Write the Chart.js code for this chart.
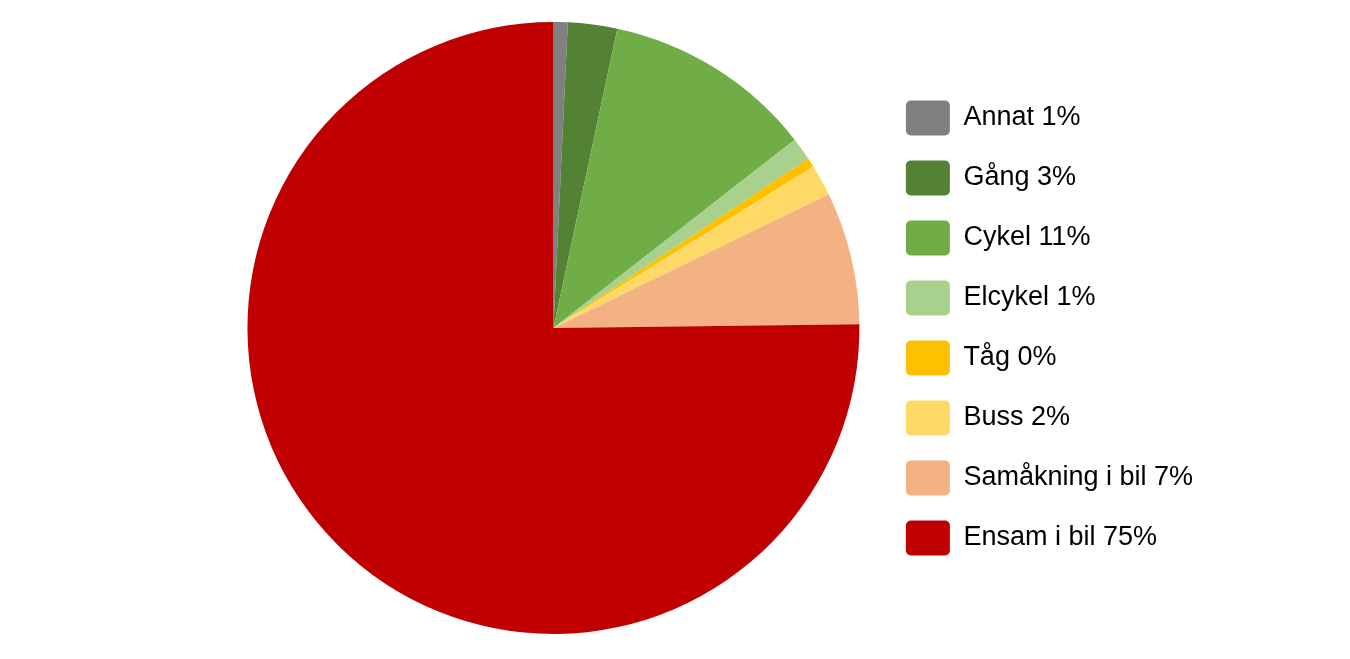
<!DOCTYPE html>
<html>
<head>
<meta charset="utf-8">
<script src="https://cdn.jsdelivr.net/npm/chart.js@4/dist/chart.umd.min.js"></script>
<style>
html,body{margin:0;padding:0;background:#fff;}
#wrap{width:1350px;height:659px;position:relative;}
</style>
</head>
<body>
<div id="wrap"><canvas id="c"></canvas></div>
<script>
const categories = ["Annat 1%", "Gång 3%", "Cykel 11%", "Elcykel 1%", "Tåg 0%", "Buss 2%", "Samåkning i bil 7%", "Ensam i bil 75%"];
const values = [0.75, 2.6, 11.1, 1.2, 0.5, 1.65, 7.0, 75.2];
const colors = ["#808080", "#548235", "#70AD47", "#A9D18E", "#FFC000", "#FFD966", "#F4B183", "#C00000"];

new Chart(document.getElementById('c'), {
  type: 'pie',
  data: {
    labels: categories,
    datasets: [{
      data: values,
      backgroundColor: colors,
      borderWidth: 0
    }]
  },
  options: {
    responsive: true,
    maintainAspectRatio: false,
    animation: false,
    layout: { padding: { left: 226, right: 147, top: 22, bottom: 25 } },
    plugins: {
      tooltip: { enabled: false },
      legend: {
        position: 'right',
        align: 'center',
        labels: {
          boxWidth: 44,
          boxHeight: 35,
          padding: 25,
          useBorderRadius: true,
          borderRadius: 5,
          color: '#000',
          font: { family: '"Liberation Sans", Arial, sans-serif', size: 27 }
        }
      }
    }
  }
});
</script>
</body>
</html>
